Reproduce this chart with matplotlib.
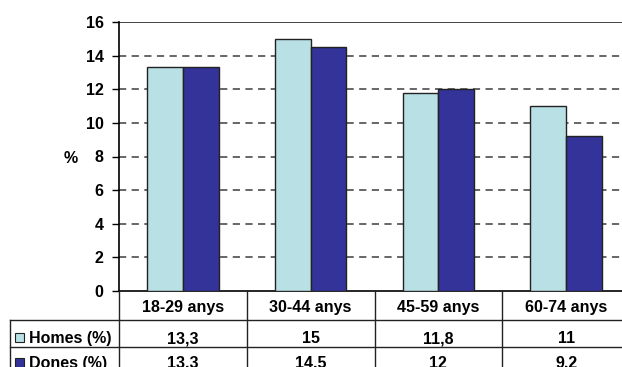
import matplotlib
matplotlib.use("Agg")
import matplotlib.pyplot as plt
from matplotlib.transforms import blended_transform_factory
from matplotlib.patches import Rectangle
import numpy as np

# Data
categories = ["18-29 anys", "30-44 anys", "45-59 anys", "60-74 anys"]
series_names = ["Homes (%)", "Dones (%)"]
homes = [13.3, 15, 11.8, 11]
dones = [13.3, 14.5, 12, 9.2]
homes_labels = ["13,3", "15", "11,8", "11"]
dones_labels = ["13.3", "14.5", "12", "9.2"]
y_ticks = [0, 2, 4, 6, 8, 10, 12, 14, 16]

light = "#B9E0E4"
dark = "#333399"
FS = 11.5

plt.rcParams["font.family"] = ["Liberation Sans", "DejaVu Sans"]
plt.rcParams["font.weight"] = "bold"

W, H = 622, 367
fig = plt.figure(figsize=(W / 100, H / 100), dpi=100)

# axes box in pixel terms
left_px, right_px, top_px, bottom_px = 119, 630, 22, 291
ax = fig.add_axes([left_px / W, 1 - bottom_px / H,
                   (right_px - left_px) / W, (bottom_px - top_px) / H])

x = np.arange(len(categories))
bw = 0.28
ax.bar(x - bw / 2, homes, bw, color=light, edgecolor="#222222", linewidth=1.0, zorder=3)
ax.bar(x + bw / 2, dones, bw, color=dark, edgecolor="#222222", linewidth=1.0, zorder=3)

ax.set_xlim(-0.5, len(categories) - 0.5)
ax.set_ylim(0, 16)
ax.set_yticks(y_ticks)
ax.set_yticklabels([str(t) for t in y_ticks], fontsize=FS, fontweight="bold")
ax.set_xticks([])
ax.tick_params(axis="y", direction="out", length=5, width=1, pad=6)

for t in y_ticks[1:-1]:
    ax.axhline(t, color="#5a5a5a", linestyle=(0, (4, 3)), linewidth=1.3, zorder=1)
ax.axhline(16, color="#444444", linewidth=1.4, zorder=1)

for s in ["top", "right"]:
    ax.spines[s].set_visible(False)
ax.spines["left"].set_linewidth(1.2)
ax.spines["bottom"].set_linewidth(1.2)

fig.text(71 / W, 1 - 163 / H, "%", fontsize=FS, fontweight="bold", ha="center", va="baseline")

# Data table below the axes
tr = blended_transform_factory(ax.transData, fig.transFigure)
def fy(py):
    return 1 - py / H

row_edges = [291, 320, 347, 374]
lx = -0.5 - (left_px - 10) / (right_px - left_px) * len(categories)

# horizontal rules
for yy in row_edges[1:-1]:
    fig.add_artist(plt.Line2D([lx, len(categories) - 0.5], [fy(yy), fy(yy)],
                              transform=tr, color="#222222", linewidth=1.0))
# vertical rules
for b in np.arange(len(categories) + 1) - 0.5:
    fig.add_artist(plt.Line2D([b, b], [fy(291), fy(374)], transform=tr,
                              color="#222222", linewidth=1.0))
fig.add_artist(plt.Line2D([lx, lx], [fy(320), fy(374)], transform=tr,
                          color="#222222", linewidth=1.0))

for i, c in enumerate(categories):
    fig.text(i, fy(312), c, transform=tr, ha="center", va="baseline",
             fontsize=FS, fontweight="bold")
    fig.text(i, fy(343), homes_labels[i], transform=tr, ha="center", va="baseline",
             fontsize=FS, fontweight="bold")
    fig.text(i, fy(368), dones_labels[i], transform=tr, ha="center", va="baseline",
             fontsize=FS, fontweight="bold")

# row headers with colour keys
for name, col, base in [(series_names[0], light, 343), (series_names[1], dark, 368)]:
    fig.add_artist(Rectangle((15 / W, fy(base - 1)), 9 / W, 9 / H, transform=fig.transFigure,
                             facecolor=col, edgecolor="#222222", linewidth=0.8))
    fig.text(29 / W, fy(base), name, ha="left", va="baseline", fontsize=FS, fontweight="bold")

fig.savefig("out.png", dpi=100)
